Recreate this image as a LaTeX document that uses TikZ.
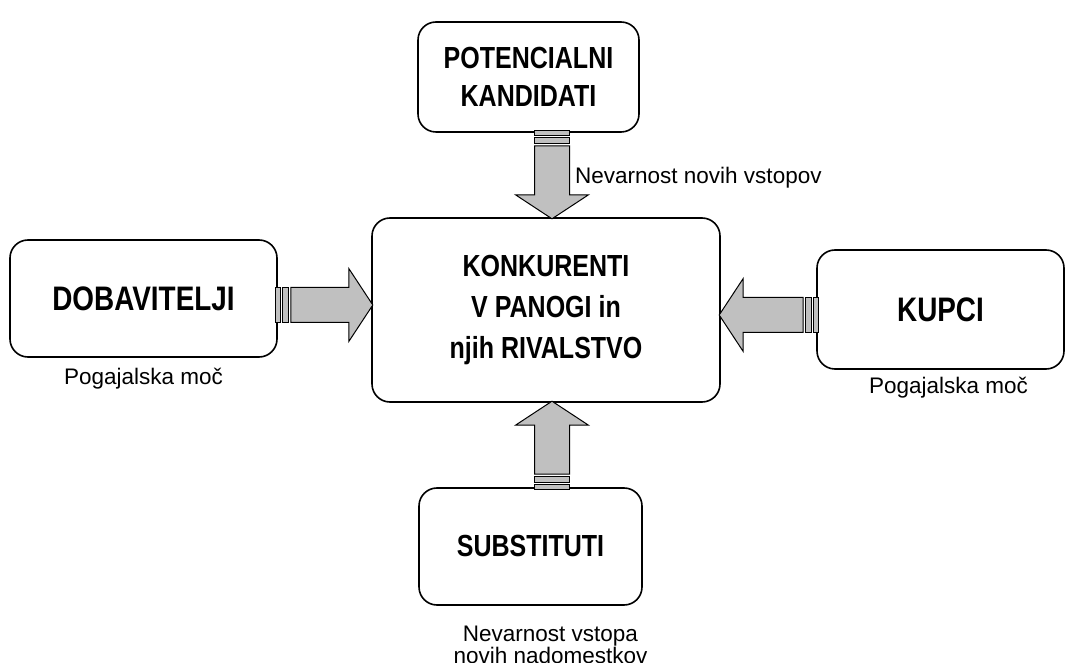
\documentclass[tikz,border=0pt]{standalone}
\usepackage{fontspec}
\setmainfont{Liberation Sans}
\newfontfamily\narrowfont{Liberation Sans}[FakeStretch=0.82]
\usetikzlibrary{positioning,calc}
\definecolor{arrowgray}{RGB}{192,192,192}
\tikzset{
  box/.style={rectangle,draw=black,line width=1.6pt,rounded corners=18pt,fill=white,
    align=center,inner sep=0pt,font=\narrowfont\bfseries\fontsize{30.5}{38}\selectfont},
  sidebox/.style={box,font=\narrowfont\bfseries\fontsize{34}{40}\selectfont},
  lbl/.style={inner sep=1pt,align=center,font=\fontsize{22.5}{21}\selectfont},
  arrbody/.style={draw=black,line width=1pt,fill=arrowgray,line join=miter},
  pics/stripearr/.style={code={
    \draw[arrbody] (-2,-17.5) rectangle (2.5,17.5);
    \draw[arrbody] (5,-17.5) rectangle (11,17.5);
    \draw[arrbody] (13,-17.5) -- (#1-24,-17.5) -- (#1-24,-36.5) -- (#1,0)
      -- (#1-24,36.5) -- (#1-24,17.5) -- (13,17.5) -- cycle;
  }}
}
\begin{document}
\begin{tikzpicture}[x=1pt,y=1pt]
    \useasboundingbox (0,0) rectangle (1074,662);

    % Forces
    \node[box,minimum width=221pt,minimum height=110pt] (kand) at (528.5,585) {POTENCIALNI\\KANDIDATI};
    \node[box,minimum width=348pt,minimum height=184pt,
      font=\narrowfont\bfseries\fontsize{30.5}{41}\selectfont] (konk) at (546,352) {KONKURENTI\\V PANOGI in\\njih RIVALSTVO};
    \node[sidebox,minimum width=267pt,minimum height=117pt] (dob) at (143.5,363.5) {DOBAVITELJI};
    \node[sidebox,minimum width=247pt,minimum height=119pt] (kup) at (940.5,352.5) {KUPCI};
    \node[box,minimum width=223pt,minimum height=117pt] (sub) at (530.5,115.5) {SUBSTITUTI};

    % Striped arrows
    \pic[rotate=-90] at ($(kand.south)+(23.5,0)$) {stripearr=86};
    \pic[rotate=90] at ($(sub.north)+(21.5,0)$) {stripearr=86};
    \pic at ($(dob.east)+(0,-6.5)$) {stripearr=95};
    \pic[rotate=180] at ($(kup.west)+(0,-5.5)$) {stripearr=97};

    % Labels
    \node[lbl,anchor=west] (nevn) at (574,484) {Nevarnost novih vstopov};
    \node[lbl,below=9pt of dob] (pogd) {Pogajalska moč};
    \node[lbl,below=6pt of kup,xshift=8pt] (pogk) {Pogajalska moč};
    \node[lbl,below=19pt of sub,xshift=20pt,font=\fontsize{22.5}{18}\selectfont] (nevs) {Nevarnost vstopa\\novih nadomestkov};
  \end{tikzpicture}
\end{document}
